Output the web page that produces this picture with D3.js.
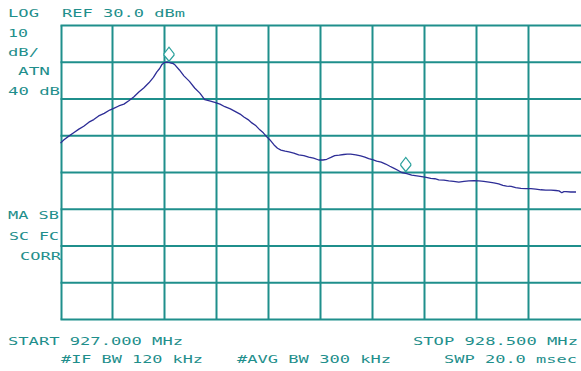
<!DOCTYPE html>
<html>
<head>
<meta charset="utf-8">
<script src="https://cdn.jsdelivr.net/npm/d3@7"></script>
<style>
  html, body { margin: 0; padding: 0; background: #fff; }
  svg text { font-family: "DejaVu Sans Mono", monospace; font-size: 11px; fill: #1f8f8c; }
</style>
</head>
<body>
<svg width="581" height="371"></svg>
<script>
// trace: frequency (MHz) and level (dBm)
var freq = [927.000, 927.010, 927.024, 927.038, 927.053, 927.067, 927.082, 927.096, 927.110, 927.126,
  927.142, 927.155, 927.168, 927.183, 927.197, 927.212, 927.226, 927.240, 927.255, 927.268,
  927.278, 927.286, 927.292, 927.298, 927.304, 927.311, 927.318, 927.324, 927.330, 927.343,
  927.356, 927.372, 927.387, 927.402, 927.416, 927.430, 927.445, 927.460, 927.474, 927.490,
  927.506, 927.518, 927.529, 927.541, 927.552, 927.564, 927.575, 927.585, 927.595, 927.606,
  927.616, 927.626, 927.636, 927.648, 927.659, 927.673, 927.687, 927.702, 927.716, 927.730,
  927.745, 927.757, 927.768, 927.780, 927.791, 927.804, 927.817, 927.827, 927.837, 927.852,
  927.866, 927.878, 927.889, 927.900, 927.912, 927.925, 927.938, 927.950, 927.961, 927.973,
  927.984, 927.999, 928.013, 928.028, 928.042, 928.055, 928.068, 928.080, 928.091, 928.106,
  928.120, 928.134, 928.149, 928.164, 928.178, 928.192, 928.207, 928.221, 928.236, 928.250,
  928.264, 928.276, 928.287, 928.300, 928.313, 928.328, 928.342, 928.357, 928.371, 928.386,
  928.400, 928.415, 928.429, 928.438, 928.446, 928.452, 928.458, 928.472, 928.487];
var level = [-2.0, -1.1, -0.1, 0.8, 1.8, 2.6, 3.7, 4.4, 5.4, 6.1,
  7.0, 7.5, 8.1, 8.6, 9.5, 10.6, 11.9, 13.0, 14.4, 15.9,
  17.4, 18.3, 19.3, 19.8, 20.0, 20.0, 19.8, 19.7, 19.3, 17.9,
  16.3, 14.8, 13.0, 11.6, 9.8, 9.5, 9.1, 8.6, 7.9, 7.3,
  6.5, 5.9, 5.1, 4.4, 3.5, 2.7, 1.6, 0.8, -0.3, -1.3,
  -2.5, -3.4, -3.9, -4.2, -4.4, -4.7, -5.2, -5.4, -5.8, -6.1,
  -6.6, -6.6, -6.4, -5.9, -5.4, -5.3, -5.1, -5.0, -5.0, -5.2,
  -5.5, -5.8, -6.2, -6.5, -6.9, -7.2, -7.7, -8.3, -8.8, -9.4,
  -10.0, -10.3, -10.7, -10.9, -11.1, -11.3, -11.6, -11.7, -12.0, -12.1,
  -12.3, -12.4, -12.6, -12.4, -12.3, -12.2, -12.3, -12.4, -12.6, -12.8,
  -13.1, -13.5, -13.7, -13.8, -14.1, -14.3, -14.4, -14.4, -14.5, -14.7,
  -14.8, -14.8, -14.9, -15.0, -15.5, -15.2, -15.2, -15.3, -15.3];

var markerFreq = [927.313, 927.996];
var markerLevel = [20.0, -10.0];

var refLevel = 30, dbPerDiv = 10, yDivs = 8;
var startFreq = 927.000, stopFreq = 928.500, xDivs = 10;

// annotation text, with start x, baseline and drawn width
var labels = ["LOG", "REF 30.0 dBm", "10", "dB/", "ATN", "40 dB", "MA SB", "SC FC", "CORR",
  "START 927.000 MHz", "STOP 928.500 MHz", "#IF BW 120 kHz", "#AVG BW 300 kHz", "SWP 20.0 msec"];
var labelX = [8, 62, 8, 8, 18, 8, 8, 9, 20, 8, 413, 61, 237, 444];
var labelY = [17, 17, 37, 56, 75, 95, 219, 240, 260, 345, 345, 363, 363, 363];
var labelW = [31, 123, 20, 31, 32, 52, 51, 50, 41, 175, 165, 142, 154, 133];

var svg = d3.select("svg"),
  gridColor = "#1f8f8c";

var x = d3.scaleLinear()
  .domain([startFreq, stopFreq])
  .range([60.5, 580.5]);

var y = d3.scaleLinear()
  .domain([refLevel - dbPerDiv * yDivs, refLevel])
  .range([319.5, 25.5]);

var grid = svg.append("g").attr("class", "grid");

// vertical graticule (right edge falls off the screen)
var vTicks = d3.range(xDivs).map(function(i) { return startFreq + i * (stopFreq - startFreq) / xDivs; });
grid.selectAll(".v")
  .data(vTicks)
  .enter().append("line")
  .attr("class", "v")
  .attr("x1", function(d, i) { return i == 0 ? x(d) + 1 : x(d); })
  .attr("x2", function(d, i) { return i == 0 ? x(d) + 1 : x(d); })
  .attr("y1", y(refLevel - dbPerDiv * yDivs))
  .attr("y2", y(refLevel))
  .attr("stroke", gridColor)
  .attr("stroke-width", 2);

var hTicks = d3.range(yDivs + 1).map(function(i) { return refLevel - i * dbPerDiv; });
grid.selectAll(".h")
  .data(hTicks)
  .enter().append("line")
  .attr("class", "h")
  .attr("x1", x(startFreq))
  .attr("x2", 581)
  .attr("y1", function(d) { return y(d); })
  .attr("y2", function(d) { return y(d); })
  .attr("stroke", gridColor)
  .attr("stroke-width", 2);

var line = d3.line()
  .x(function(d) { return x(d[0]); })
  .y(function(d) { return y(d[1]); });

svg.append("path")
  .datum(d3.zip(freq, level))
  .attr("fill", "none")
  .attr("stroke", "#2d2d96")
  .attr("stroke-width", 1.3)
  .attr("stroke-linejoin", "round")
  .attr("d", line);

// marker diamonds sit just above the trace point
svg.selectAll(".marker")
  .data(d3.zip(markerFreq, markerLevel))
  .enter().append("path")
  .attr("class", "marker")
  .attr("transform", function(d) { return "translate(" + x(d[0]) + "," + y(d[1]) + ")"; })
  .attr("d", "M0,-1 L-5,-7 L-5,-8.5 L0,-15 L5,-8.5 L5,-7 Z")
  .attr("fill", "#fff")
  .attr("stroke", "#2aa19c")
  .attr("stroke-width", 1.2);

svg.selectAll(".label")
  .data(labels)
  .enter().append("text")
  .attr("class", "label")
  .attr("x", function(d, i) { return labelX[i]; })
  .attr("y", function(d, i) { return labelY[i]; })
  .attr("textLength", function(d, i) { return labelW[i]; })
  .attr("lengthAdjust", "spacingAndGlyphs")
  .text(function(d) { return d; });
</script>
</body>
</html>
